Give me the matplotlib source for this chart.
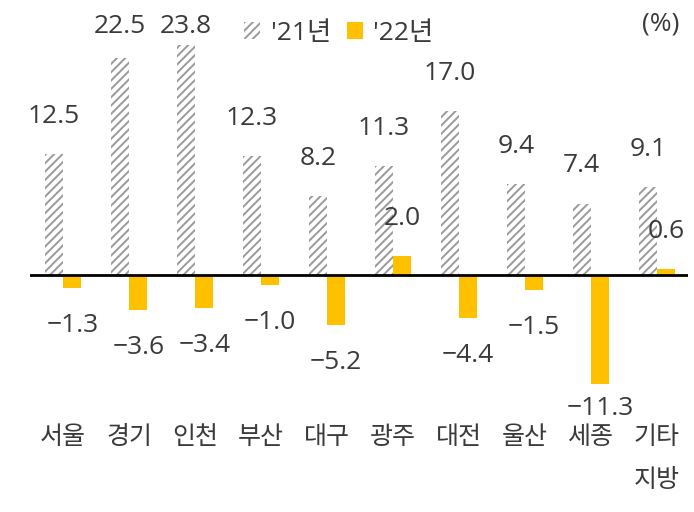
import numpy as np
import matplotlib.pyplot as plt
from matplotlib.patches import Patch

plt.rcParams['font.family'] = ['Noto Sans CJK KR', 'DejaVu Sans']
plt.rcParams['hatch.linewidth'] = 1.4

# 데이터
regions = ['서울', '경기', '인천', '부산', '대구', '광주', '대전', '울산', '세종', '기타\n지방']
y21 = [12.5, 22.5, 23.8, 12.3, 8.2, 11.3, 17.0, 9.4, 7.4, 9.1]
y22 = [-1.3, -3.6, -3.4, -1.0, -5.2, 2.0, -4.4, -1.5, -11.3, 0.6]
legend_labels = ["'21년", "'22년"]

grey = '#9a9a9a'
gold = '#ffc000'
txt = '#3a3a3a'
num_font = ['Open Sans', 'Noto Sans CJK KR']

fig = plt.figure(figsize=(6.94, 5.12), dpi=100)
ax = fig.add_axes([30 / 694, 0, 658 / 694, 1])
ax.set_xlim(-0.5, 9.47)
ax.set_ylim(-24.53, 28.47)
ax.axis('off')

x = np.arange(len(regions))
w = 0.28
ax.bar(x - w / 2, y21, w, facecolor='white', edgecolor=grey, linewidth=0, hatch='////')
ax.bar(x + w / 2, y22, w, color=gold, linewidth=0)
ax.axhline(0, color='black', lw=2)

fs = 18
off = 3.9  # 막대 끝에서 라벨까지 거리


def fmt(v):
    return f'{v:.1f}'.replace('-', '−')


for i in range(len(regions)):
    ax.text(x[i] - w / 2, min(y21[i] + off, 25.7), fmt(y21[i]), ha='center', va='center',
            fontsize=19, color=txt, family=num_font)
    v = y22[i]
    ly = v + off if v > 0 else max(v - off, -13.8)
    ax.text(x[i] + w / 2, ly, fmt(v), ha='center', va='center', fontsize=19, color=txt,
            family=num_font)
    # 카테고리 이름 (두 줄이면 줄마다 따로)
    for k, line in enumerate(regions[i].split('\n')):
        ax.text(x[i], -16.77 - k * 4.45, line, ha='center', va='center', fontsize=fs,
                color=txt)

# 범례
handles = [Patch(facecolor='white', edgecolor=grey, linewidth=0, hatch='////'),
           Patch(facecolor=gold, linewidth=0)]
fig.legend(handles, legend_labels, loc='center', bbox_to_anchor=(339 / 694, 1 - 33 / 512),
           ncol=2, frameon=False, prop={'family': num_font, 'size': 19},
           handlelength=0.6, handleheight=0.6,
           handletextpad=0.4, columnspacing=0.6, labelcolor=txt)

fig.text(661 / 694, 1 - 24 / 512, '(%)', ha='center', va='center', fontsize=19, color=txt,
         family=num_font)

plt.savefig('out.png', dpi=100)
